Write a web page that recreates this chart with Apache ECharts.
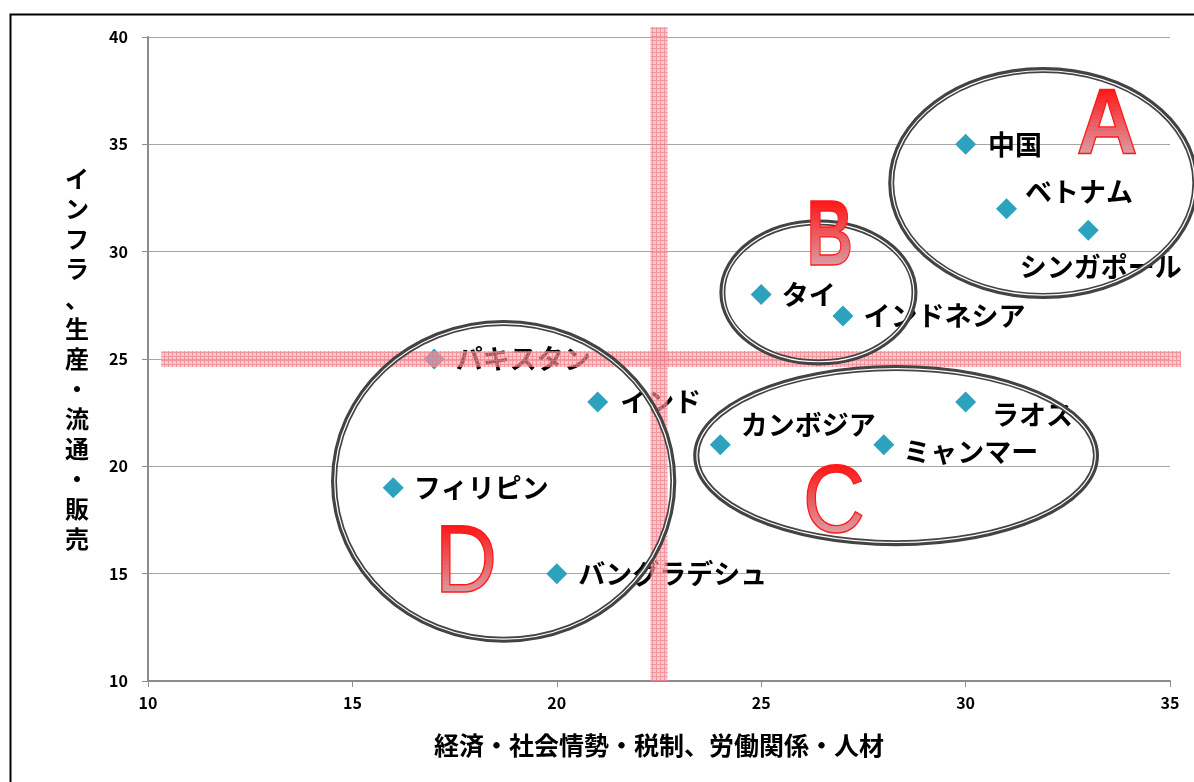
<!DOCTYPE html>
<html><head><meta charset="utf-8">
<script src="https://cdn.jsdelivr.net/npm/echarts@6/dist/echarts.min.js"></script>
<style>html,body{margin:0;padding:0;background:#fff}#c{width:1194px;height:782px}</style>
</head><body><div id="c"></div>
<script>
// ---- data ----
const countries = ['中国','ベトナム','シンガポール','タイ','インドネシア','パキスタン','インド','カンボジア','ミャンマー','ラオス','フィリピン','バングラデシュ'];
const economyScores = [30,31,33,25,27,17,21,24,28,30,16,20];
const infraScores   = [35,32,31,28,27,25,23,21,21,23,19,15];
const xAxisRange = [10, 35, 5];
const yAxisRange = [10, 40, 5];
const xAxisTitle = '経済・社会情勢・税制、労働関係・人材';
const yAxisTitle = 'インフラ、生産・流通・販売';
const thresholdX = 22.5;
const thresholdY = 25;
const groupNames   = ['A','B','C','D'];
const groupCenterX = [31.9, 26.4, 28.3, 18.7];
const groupCenterY = [33.2, 28.1, 20.5, 19.3];
const groupRadiusX = [3.72, 2.35, 4.89, 4.15];
const groupRadiusY = [5.26, 3.26, 4.08, 7.38];
const groupLetterX = [33.46, 26.68, 26.78, 17.78];
const groupLetterY = [36.0, 30.78, 18.4, 15.6];

// ---- styling / layout (not data) ----
const labelOffsets = {
  '中国':[0,0], 'ベトナム':[-4,-17], 'シンガポール':[-91,37], 'タイ':[-2,0],
  'インドネシア':[-2,0], 'パキスタン':[-1,0], 'インド':[0,0], 'カンボジア':[-2,-20],
  'ミャンマー':[-3,7], 'ラオス':[4,13], 'フィリピン':[-2,0], 'バングラデシュ':[-1,0]
};
const letterScaleX = [0.92, 0.7, 0.9, 0.9];
const letterWeight = ['bold','bold','normal','normal'];
const letterSize = [92, 92, 96, 96];
const bandHalfWidthX = 0.21, bandHalfHeightY = 0.37, bandXExtent = [10.32, 35.27], bandYExtent = [10, 40.47];
const JP = '"Noto Sans CJK JP","Noto Sans",sans-serif';

// pink hatched pattern
const pc = document.createElement('canvas');
pc.width = 4; pc.height = 4;
const pctx = pc.getContext('2d');
pctx.fillStyle = 'rgba(245,165,172,0.6)'; pctx.fillRect(0,0,4,4);
pctx.fillStyle = 'rgba(236,115,128,0.6)'; pctx.fillRect(0,0,4,1); pctx.fillRect(0,1,1,3);
const bandFill = {image: pc, repeat: 'repeat'};

function mix(a, b, t){
  const r = Math.round(a[0]+(b[0]-a[0])*t), g = Math.round(a[1]+(b[1]-a[1])*t), bl = Math.round(a[2]+(b[2]-a[2])*t);
  return 'rgb('+r+','+g+','+bl+')';
}
const topRed = [255,20,20], bottomPink = [214,165,174];

const chart = echarts.init(document.getElementById('c'), null, {renderer:'canvas'});

const scatterData = countries.map((n,i)=>({
  name:n, value:[economyScores[i], infraScores[i]],
  label:{offset: labelOffsets[n]}
}));
const groupData = groupNames.map((g,i)=>[groupCenterX[i], groupCenterY[i], groupRadiusX[i], groupRadiusY[i], i]);
const letterData = groupNames.map((g,i)=>[groupLetterX[i], groupLetterY[i], i]);

const option = {
  animation:false,
  backgroundColor:'#fff',
  graphic:[{type:'rect', z:100, shape:{x:10.5,y:14.5,width:1250,height:800}, style:{fill:null, stroke:'#000', lineWidth:2}}],
  grid:{left:148, right:24, top:37, bottom:101},
  xAxis:{
    type:'value', min:xAxisRange[0], max:xAxisRange[1], interval:xAxisRange[2],
    name:xAxisTitle, nameLocation:'middle', nameGap:52,
    nameTextStyle:{fontFamily:JP, fontWeight:'bold', fontSize:25, color:'#000'},
    axisLine:{show:true, lineStyle:{color:'#8c8c8c', width:2}},
    axisTick:{show:true, length:6, lineStyle:{color:'#8c8c8c', width:1}},
    axisLabel:{margin:14, fontFamily:JP, fontWeight:'bold', fontSize:16, color:'#000'},
    splitLine:{show:false}
  },
  yAxis:{
    type:'value', min:yAxisRange[0], max:yAxisRange[1], interval:yAxisRange[2],
    name:yAxisTitle.split('').join('\n'), nameLocation:'middle', nameGap:71, nameRotate:0,
    nameTextStyle:{fontFamily:JP, fontWeight:'bold', fontSize:24, color:'#000', lineHeight:30, align:'center', verticalAlign:'middle'},
    axisLine:{show:true, lineStyle:{color:'#8c8c8c', width:2}},
    axisTick:{show:true, length:6, lineStyle:{color:'#8c8c8c', width:1}},
    axisLabel:{margin:20, fontFamily:JP, fontWeight:'bold', fontSize:16, color:'#000'},
    splitLine:{show:true, lineStyle:{color:'#a6a6a6', width:1}}
  },
  series:[
    {
      type:'scatter', z:2, symbol:'diamond', symbolSize:21,
      itemStyle:{color:'#2ca2bf', opacity:1},
      label:{show:true, position:'right', distance:12, formatter:'{b}', fontFamily:JP, fontWeight:'bold', fontSize:27, color:'#000'},
      data:scatterData
    },
    {
      type:'custom', z:3, silent:true, clip:false,
      data:[[thresholdX, thresholdY]],
      renderItem:function(params, api){
        const tx = api.value(0), ty = api.value(1);
        const h1 = api.coord([bandXExtent[0], ty + bandHalfHeightY]);
        const h2 = api.coord([bandXExtent[1], ty - bandHalfHeightY]);
        const v1 = api.coord([tx - bandHalfWidthX, bandYExtent[1]]);
        const v2 = api.coord([tx + bandHalfWidthX, bandYExtent[0]]);
        return {type:'group', children:[
          {type:'rect', shape:{x:h1[0], y:h1[1], width:h2[0]-h1[0], height:h2[1]-h1[1]}, style:{fill:bandFill}},
          {type:'rect', shape:{x:v1[0], y:v1[1], width:v2[0]-v1[0], height:v2[1]-v1[1]}, style:{fill:bandFill}}
        ]};
      }
    },
    {
      type:'custom', z:4, silent:true, clip:false,
      data:groupData,
      renderItem:function(params, api){
        const c = api.coord([api.value(0), api.value(1)]);
        const e = api.coord([api.value(0)+api.value(2), api.value(1)-api.value(3)]);
        const rx = e[0]-c[0], ry = e[1]-c[1];
        return {type:'group', children:[
          {type:'ellipse', shape:{cx:c[0], cy:c[1], rx:rx, ry:ry}, style:{fill:null, stroke:'#434343', lineWidth:6}},
          {type:'ellipse', shape:{cx:c[0], cy:c[1], rx:rx-0.7, ry:ry-0.7}, style:{fill:null, stroke:'#ffffff', lineWidth:1.2}}
        ]};
      }
    },
    {
      type:'custom', z:5, silent:true, clip:false,
      data:letterData,
      renderItem:function(params, api){
        const i = api.value(2);
        const p = api.coord([api.value(0), api.value(1)]);
        const fs = letterSize[i];
        const font = letterWeight[i] + ' ' + fs + 'px "Liberation Sans", Arial, sans-serif';
        const top = -0.43*fs, bottom = 0.33*fs;
        const N = 18, step = (bottom-top)/N;
        const children = [];
        for (let k=0;k<N;k++){
          const y0 = top + step*k - (k===0?20:0);
          const h = step + 0.8 + (k===0?20:0) + (k===N-1?20:0);
          children.push({type:'text',
            style:{text:groupNames[i], x:0, y:0, align:'center', verticalAlign:'middle', font:font, fill:mix(topRed, bottomPink, (k+0.5)/N)},
            clipPath:{type:'rect', shape:{x:-200, y:y0, width:400, height:h}}});
        }
        children.push({type:'text',
          style:{text:groupNames[i], x:0, y:0, align:'center', verticalAlign:'middle', font:font, fill:null, stroke:'#ff1a1a', lineWidth:1.4}});
        return {type:'group', x:p[0], y:p[1] + 0.05*fs, scaleX:letterScaleX[i], scaleY:1, children:children};
      }
    }
  ]
};
chart.setOption(option);
</script></body></html>
